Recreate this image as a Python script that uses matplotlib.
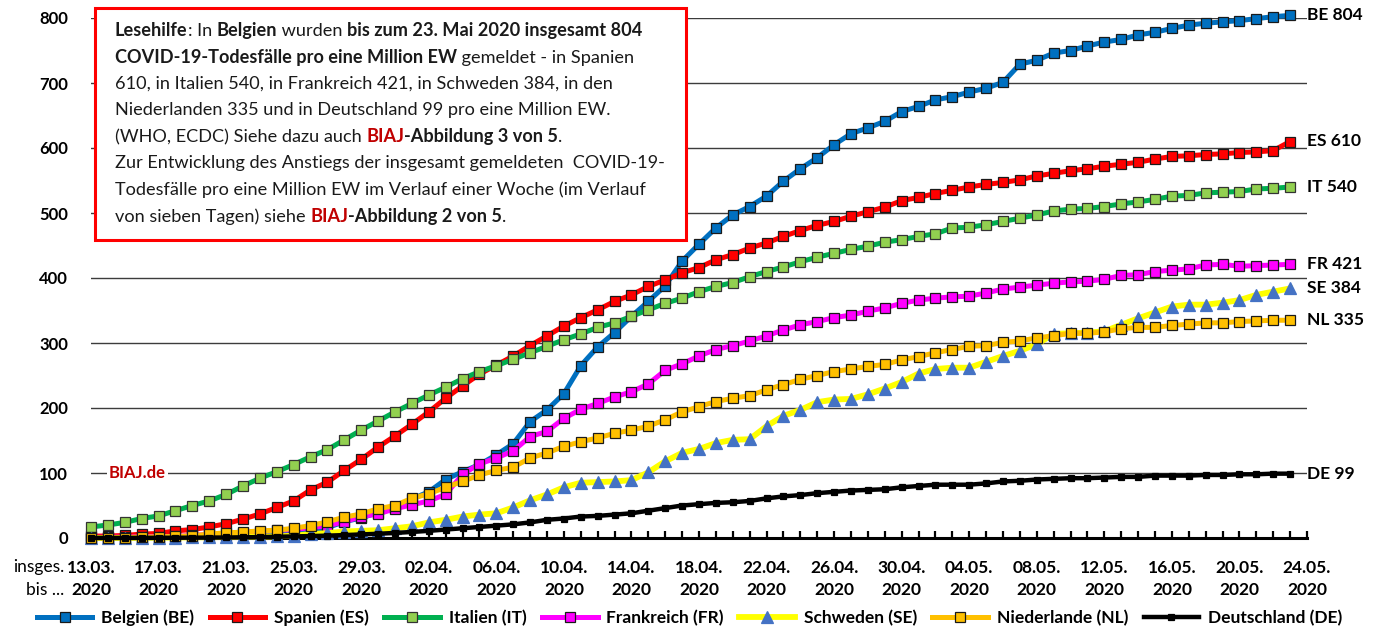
import numpy as np
import pandas as pd
import matplotlib
matplotlib.use('Agg')
import matplotlib.pyplot as plt
from matplotlib.patches import Rectangle
from matplotlib.font_manager import FontProperties

plt.rcParams['font.family'] = ['Lato', 'DejaVu Sans']

# COVID-19-Todesfaelle pro eine Million EW, 13.03.2020 - 23.05.2020 (taeglich)
dates = pd.date_range('2020-03-13', '2020-05-23')

be = [0.3, 0.3, 0.4, 0.4, 0.4, 0.9, 1.2, 1.8, 3.2, 5.8, 6.5, 7.7, 9, 11, 16, 25, 31, 39,
      46, 60, 71, 90, 102, 113, 128, 145, 179, 197, 222, 265, 294, 316, 341, 364, 388, 426,
      452, 477, 497, 510, 526, 549, 568, 585, 605, 622, 631, 641, 656, 664, 674, 679, 686, 692,
      701, 729, 735, 746, 750, 757, 763, 767, 774, 778, 784, 789, 792, 794, 796, 799, 802, 804]
es = [3, 3, 4, 6, 7, 11, 13, 17, 22, 29, 37, 47, 57, 74, 86, 104, 121, 140,
      157, 175, 194, 215, 234, 252, 266, 280, 296, 311, 326, 339, 351, 364, 374, 387, 397, 408,
      416, 428, 436, 446, 454, 464, 473, 481, 487, 495, 502, 509, 519, 524, 530, 535, 540, 544,
      547, 551, 557, 561, 565, 568, 572, 575, 578, 583, 587, 588, 590, 591, 593, 594, 596, 610]
it = [17, 20, 24, 30, 34, 42, 50, 57, 67, 80, 92, 102, 113, 125, 136, 151, 166, 180,
      194, 207, 220, 232, 245, 256, 265, 275, 285, 295, 305, 314, 324, 331, 341, 351, 361, 369,
      379, 387, 393, 402, 410, 417, 425, 432, 438, 444, 449, 455, 459, 464, 468, 477, 478, 482,
      487, 492, 497, 503, 506, 507, 510, 514, 517, 521, 526, 527, 531, 532, 533, 537, 538, 540]
fr = [1, 1.2, 1.4, 1.9, 2.2, 2.6, 3.9, 5.6, 6.7, 8.4, 10, 12, 13, 16, 19, 25, 33, 37,
      45, 51, 57, 67, 98, 114, 123, 134, 156, 164, 184, 198, 207, 217, 225, 237, 258, 268,
      280, 290, 296, 303, 311, 320, 328, 333, 339, 343, 349, 354, 361, 366, 369, 371, 372, 377,
      383, 386, 389, 392, 394, 395, 398, 404, 405, 410, 412, 414, 420, 421, 418, 419, 420, 421]
se = [0.1, 0.1, 0.2, 0.3, 0.6, 0.7, 1.0, 1.1, 1.6, 2.0, 2.1, 2.5, 3.5, 6, 7.5, 10, 11, 12,
      15, 18, 24, 28, 33, 36, 38, 47, 58, 67, 78, 85, 86, 87, 89, 101, 118, 131,
      137, 146, 151, 152, 172, 188, 197, 209, 213, 214, 221, 230, 240, 253, 260, 262, 262, 271,
      280, 288, 298, 314, 315, 316, 318, 328, 338, 347, 356, 359, 359, 362, 366, 374, 379, 384]
nl = [0.3, 0.6, 0.7, 1.2, 1.4, 2.5, 3.4, 6, 8, 9, 11, 12, 15, 19, 25, 32, 37, 45,
      50, 61, 68, 78, 87, 97, 104, 109, 123, 131, 141, 148, 154, 161, 166, 172, 182, 194,
      202, 210, 215, 219, 228, 236, 244, 250, 256, 260, 264, 267, 274, 279, 285, 290, 295, 296,
      301, 303, 308, 311, 315, 315, 317, 322, 324, 324, 327, 329, 331, 331, 333, 334, 335, 335]
de = [0.1, 0.1, 0.1, 0.2, 0.3, 0.4, 0.5, 0.6, 0.8, 1.1, 1.4, 1.9, 2.4, 3.0, 3.6, 4.5, 5.5, 6.5,
      7.8, 9.3, 11, 13, 15, 17, 19, 21, 24, 28, 30, 33, 34, 36, 38, 42, 46, 50,
      52, 54, 55, 57, 61, 64, 66, 69, 71, 73, 74, 75, 78, 80, 82, 82, 82, 84,
      87, 88, 90, 91, 92, 92, 93, 94, 94, 96, 96, 96, 97, 97, 98, 98, 99, 99]

names = ['Belgien (BE)', 'Spanien (ES)', 'Italien (IT)', 'Frankreich (FR)',
         'Schweden (SE)', 'Niederlande (NL)', 'Deutschland (DE)']
codes = ['BE', 'ES', 'IT', 'FR', 'SE', 'NL', 'DE']
values = [be, es, it, fr, se, nl, de]

# line colour, marker, marker face, marker edge, marker size, line width
styles = [
    ('#0070C0', 's', '#0070C0', '#1a1a1a', 6.5, 3.6),
    ('#FF0000', 's', '#FF0000', '#1a1a1a', 6.5, 3.6),
    ('#00B050', 's', '#92D050', '#333333', 6.5, 3.6),
    ('#FF00FF', 's', '#FF00FF', '#1a1a1a', 6.5, 3.6),
    ('#FFFF00', '^', '#4472C4', '#4472C4', 9.0, 4.2),
    ('#FFC000', 's', '#FFC000', '#1a1a1a', 6.5, 3.6),
    ('#000000', 's', '#000000', '#000000', 5.0, 3.2),
]

W, H = 1379, 630
fig = plt.figure(figsize=(W / 100, H / 100), dpi=100)
ax = fig.add_axes([91 / W, 1 - 538 / H, (1307 - 91) / W, 520 / H])

handles = []
for name, vals, (lc, mk, mfc, mec, ms, lw) in zip(names, values, styles):
    h, = ax.plot(dates, vals, color=lc, lw=lw, marker=mk, ms=ms, mfc=mfc, mec=mec,
                 mew=0.9, clip_on=False, zorder=3)
    handles.append(h)

for code, vals in zip(codes, values):
    ax.annotate(f'{code} {vals[-1]:.0f}', xy=(dates[-1], vals[-1]), xytext=(12, 0),
                textcoords='offset points', va='center', ha='left', fontsize=12.5,
                fontweight='bold', annotation_clip=False)

ax.set_ylim(0, 800)
ax.set_xlim(dates[0], dates[-1] + pd.Timedelta(days=1))
ax.set_yticks(range(0, 801, 100))
ax.set_yticklabels([str(v) for v in range(0, 801, 100)], fontweight='bold', fontsize=12)
ax.yaxis.grid(True, color='#3c3c3c', lw=1.0)
ax.set_axisbelow(True)
for s in ['left', 'top', 'right']:
    ax.spines[s].set_visible(False)
ax.spines['bottom'].set_linewidth(2.2)
ax.tick_params(axis='y', length=0, pad=16.5)

major = pd.date_range(dates[0], dates[-1] + pd.Timedelta(days=1), freq='4D')
minor = pd.date_range(dates[0], dates[-1] + pd.Timedelta(days=1), freq='D')
ax.set_xticks(major)
ax.set_xticks(minor, minor=True)
ax.set_xticklabels([d.strftime('%d.%m.\n%Y') for d in major], fontweight='bold',
                   fontsize=12.5, linespacing=1.45)
ax.tick_params(axis='x', which='both', direction='in', length=5, width=1.6, pad=16)

fig.text(64 / W, 1 - 567 / H, 'insges.', ha='right', va='center', fontsize=12.5)
fig.text(64 / W, 1 - 590 / H, 'bis ...', ha='right', va='center', fontsize=12.5)

fig.text(137 / W, 1 - 473 / H, 'BIAJ.de', color='#C00000', fontweight='bold', fontsize=12,
         ha='center', va='center',
         bbox=dict(fc='white', ec='none', pad=1.5))

fig.legend(handles, names, loc='center', bbox_to_anchor=(0.5, 1 - 618 / H), ncol=7,
           frameon=False, prop=dict(weight='bold', size=12.5), handlelength=3.2,
           columnspacing=0.9, handletextpad=0.5)

# Lesehilfe box
box = Rectangle((95 / W, 1 - 240 / H), (686 - 95) / W, 232 / H, transform=fig.transFigure,
                fc='white', ec='#FF0000', lw=2.2, zorder=5)
fig.add_artist(box)

lines = [
    [('Lesehilfe', 'b'), (': In ', 'n'), ('Belgien', 'b'), (' wurden ', 'n'),
     ('bis zum 23. Mai 2020 insgesamt 804', 'b')],
    [('COVID-19-Todesfälle pro eine Million EW', 'b'), (' gemeldet - in Spanien', 'n')],
    [('610, in Italien 540, in Frankreich 421, in Schweden 384, in den', 'n')],
    [('Niederlanden 335 und in Deutschland 99 pro eine Million EW.', 'n')],
    [('(WHO, ECDC) Siehe dazu auch ', 'n'), ('BIAJ', 'r'), ('-Abbildung 3 von 5', 'b'), ('.', 'n')],
    [('Zur Entwicklung des Anstiegs der insgesamt gemeldeten  COVID-19-', 'n')],
    [('Todesfälle pro eine Million EW im Verlauf einer Woche (im Verlauf', 'n')],
    [('von sieben Tagen) siehe ', 'n'), ('BIAJ', 'r'), ('-Abbildung 2 von 5', 'b'), ('.', 'n')],
]

renderer = fig.canvas.get_renderer()


def seg_width(s, fp):
    w1 = renderer.get_text_width_height_descent('|' + s + '|', fp, ismath=False)[0]
    w0 = renderer.get_text_width_height_descent('||', fp, ismath=False)[0]
    return w1 - w0


def props(kind, size):
    return FontProperties(family=['Lato', 'DejaVu Sans'], size=size,
                          weight='normal' if kind == 'n' else 'bold')


# fit the font size so the widest line fits the box
fs = 11.0
widest = max(sum(seg_width(s, props(k, fs)) for s, k in segs) for segs in lines)
fs = fs * 552 / widest

for i, segs in enumerate(lines):
    x = 115
    y = 36 + 26.5 * i
    for s, kind in segs:
        fp = props(kind, fs)
        fig.text(x / W, 1 - y / H, s, fontproperties=fp, va='baseline', ha='left',
                 color='#C00000' if kind == 'r' else '#1a1a1a', zorder=6)
        x += seg_width(s, fp)

fig.savefig('out.png', dpi=100)
